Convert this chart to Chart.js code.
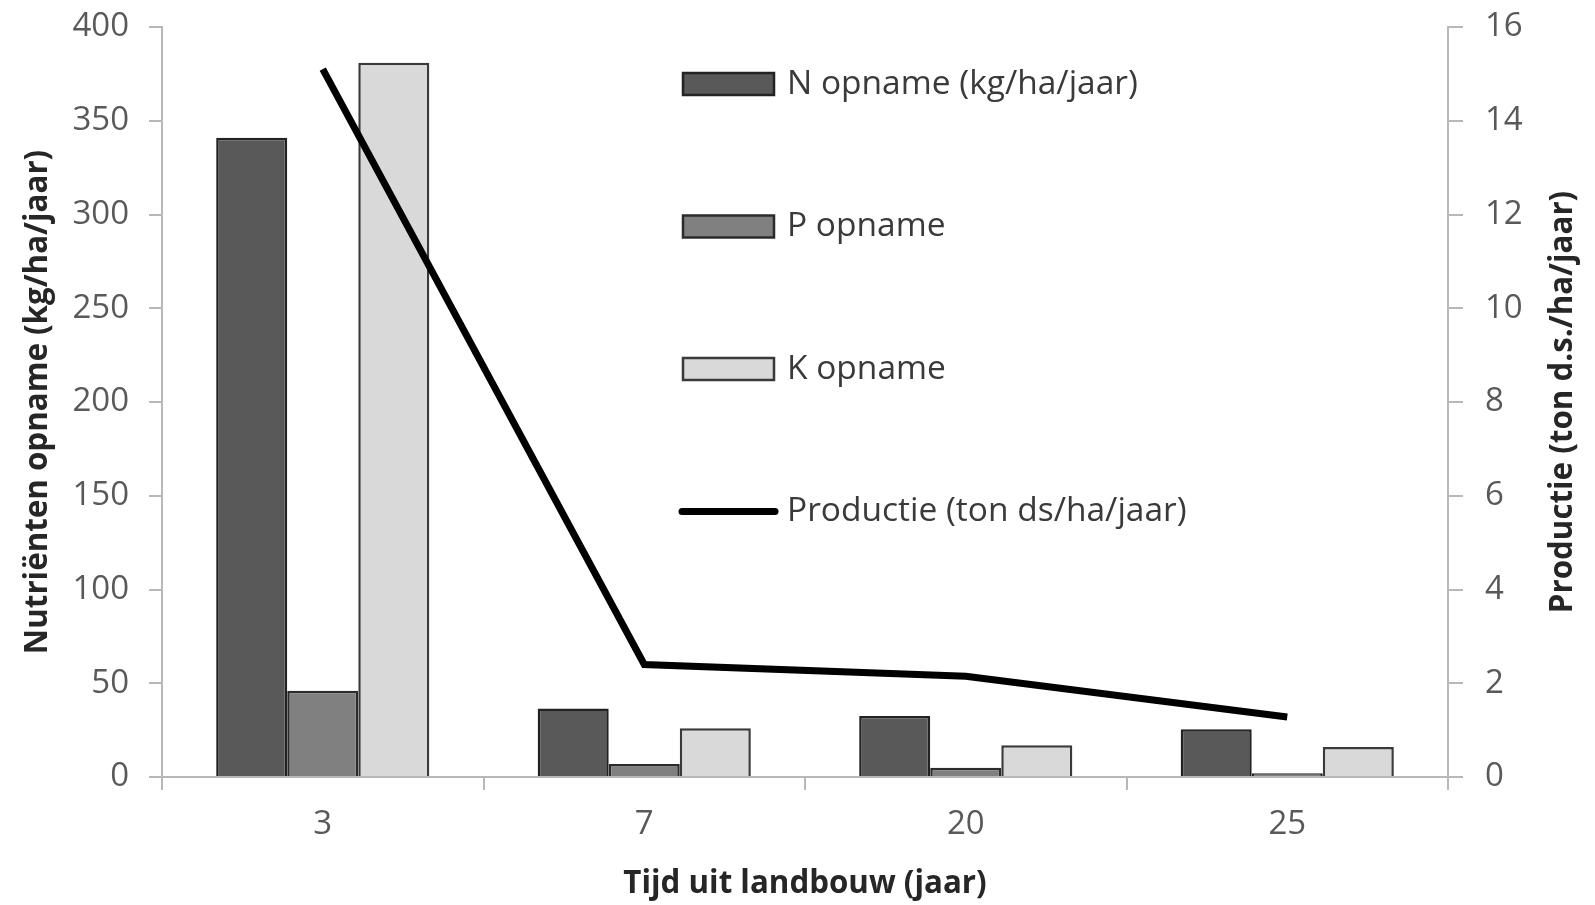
<!DOCTYPE html>
<html>
<head>
<meta charset="utf-8">
<script src="https://cdn.jsdelivr.net/npm/chart.js@4/dist/chart.umd.min.js"></script>
<style>
  html, body { margin: 0; padding: 0; background: #fff; }
  #wrap { width: 1595px; height: 905px; }
</style>
</head>
<body>
<div id="wrap"><canvas id="c" width="1595" height="905"></canvas></div>
<script>
// Years since leaving agriculture
const years = ['3', '7', '20', '25'];
// Nutrient uptake (kg/ha/jaar)
const nUptake = [341, 36.5, 32.5, 25.5];
const pUptake = [46, 7, 5, 2];
const kUptake = [381, 26, 17, 16];
// Production (ton d.s./ha/jaar)
const production = [15.1, 2.4, 2.15, 1.28];

// Axis ranges
const leftMax = 400, leftStep = 50;
const rightMax = 16, rightStep = 2;

const axisGrey = '#b8b8b8';
const tickFont = { family: 'Open Sans', size: 33 };
const tickColor = '#595959';
const titleFont = { family: 'Open Sans', size: 31.3, weight: 'bold' };
const titleColor = '#262626';

// Legend drawn as a column inside the plot area
const sideLegend = {
  id: 'sideLegend',
  afterDraw(chart, args, opts) {
    const ctx = chart.ctx;
    ctx.save();
    chart.data.datasets.forEach((ds, i) => {
      const y = opts.top + i * opts.spacing;
      const x = opts.left;
      if (ds.type === 'line') {
        ctx.strokeStyle = ds.borderColor;
        ctx.lineWidth = ds.borderWidth;
        ctx.lineCap = 'round';
        ctx.beginPath();
        ctx.moveTo(x - 1, y);
        ctx.lineTo(x + opts.boxWidth + 1, y);
        ctx.stroke();
      } else {
        ctx.fillStyle = ds.backgroundColor;
        ctx.fillRect(x, y - opts.boxHeight / 2, opts.boxWidth, opts.boxHeight);
        ctx.strokeStyle = ds.borderColor;
        ctx.lineWidth = ds.borderWidth;
        ctx.strokeRect(x, y - opts.boxHeight / 2, opts.boxWidth, opts.boxHeight);
      }
      ctx.fillStyle = opts.color;
      ctx.font = opts.font;
      ctx.textBaseline = 'middle';
      ctx.textAlign = 'left';
      ctx.fillText(ds.label, x + opts.boxWidth + opts.gap, y);
    });
    ctx.restore();
  }
};

// Right-hand axis title, reading bottom to top like the left one
const rightTitle = {
  id: 'rightTitle',
  afterDraw(chart, args, opts) {
    const ctx = chart.ctx;
    const area = chart.chartArea;
    ctx.save();
    ctx.translate(opts.x, (area.top + area.bottom) / 2);
    ctx.rotate(-Math.PI / 2);
    ctx.font = opts.font;
    ctx.fillStyle = opts.color;
    ctx.textAlign = 'center';
    ctx.textBaseline = 'middle';
    ctx.fillText(opts.text, 0, 0);
    ctx.restore();
  }
};

// Fixed widths for the vertical axes, without extra label padding
function fixVertical(width) {
  return (s) => { s.width = width; s.paddingTop = 0; s.paddingBottom = 0; };
}

new Chart(document.getElementById('c'), {
  data: {
    labels: years,
    datasets: [
      { type: 'bar', label: 'N opname (kg/ha/jaar)', data: nUptake, yAxisID: 'y',
        backgroundColor: '#595959', borderColor: '#222222', borderWidth: 2.5,
        categoryPercentage: 0.663, barPercentage: 1, order: 1 },
      { type: 'bar', label: 'P opname', data: pUptake, yAxisID: 'y',
        backgroundColor: '#808080', borderColor: '#2b2b2b', borderWidth: 2.5,
        categoryPercentage: 0.663, barPercentage: 1, order: 1 },
      { type: 'bar', label: 'K opname', data: kUptake, yAxisID: 'y',
        backgroundColor: '#d9d9d9', borderColor: '#3a3a3a', borderWidth: 2.5,
        categoryPercentage: 0.663, barPercentage: 1, order: 1 },
      { type: 'line', label: 'Productie (ton ds/ha/jaar)', data: production, yAxisID: 'y1',
        borderColor: '#000000', backgroundColor: '#000000', borderWidth: 7,
        pointRadius: 0, tension: 0, fill: false, order: 0 }
    ]
  },
  options: {
    responsive: false,
    animation: false,
    devicePixelRatio: 1,
    layout: { padding: { top: 27, left: 0, right: 0, bottom: 0 } },
    plugins: {
      legend: { display: false },
      tooltip: { enabled: false },
      sideLegend: {
        left: 683, top: 84, spacing: 142.5, boxWidth: 91, boxHeight: 22, gap: 13,
        font: '33.5px "Open Sans"', color: '#3a3a3a'
      },
      rightTitle: {
        x: 1563, text: 'Productie (ton d.s./ha/jaar)',
        font: 'bold 31.3px "Open Sans"', color: titleColor
      }
    },
    scales: {
      x: {
        offset: true,
        grid: { offset: true, drawOnChartArea: false, drawTicks: true, tickLength: 13,
                color: axisGrey, lineWidth: 2 },
        border: { color: axisGrey, width: 2 },
        ticks: { font: tickFont, color: tickColor, padding: 15 },
        title: { display: true, text: 'Tijd uit landbouw (jaar)', font: titleFont,
                 color: titleColor, padding: { top: 0, bottom: 2 } },
        afterFit(s) { s.height = 128; s.paddingLeft = 0; s.paddingRight = 0; }
      },
      y: {
        position: 'left', min: 0, max: leftMax,
        grid: { drawOnChartArea: false, drawTicks: true, tickLength: 13, color: axisGrey, lineWidth: 2 },
        border: { color: axisGrey, width: 2 },
        ticks: { stepSize: leftStep, font: tickFont, color: tickColor, padding: 20 },
        title: { display: true, text: 'Nutriënten opname (kg/ha/jaar)', font: titleFont,
                 color: titleColor, padding: { top: 19, bottom: 0 } },
        afterFit: fixVertical(162)
      },
      y1: {
        position: 'right', min: 0, max: rightMax,
        grid: { drawOnChartArea: false, drawTicks: true, tickLength: 15, color: axisGrey, lineWidth: 2 },
        border: { color: axisGrey, width: 2 },
        ticks: { stepSize: rightStep, font: tickFont, color: tickColor, padding: 22 },
        afterFit: fixVertical(147)
      }
    }
  },
  plugins: [sideLegend, rightTitle]
});
</script>
</body>
</html>
